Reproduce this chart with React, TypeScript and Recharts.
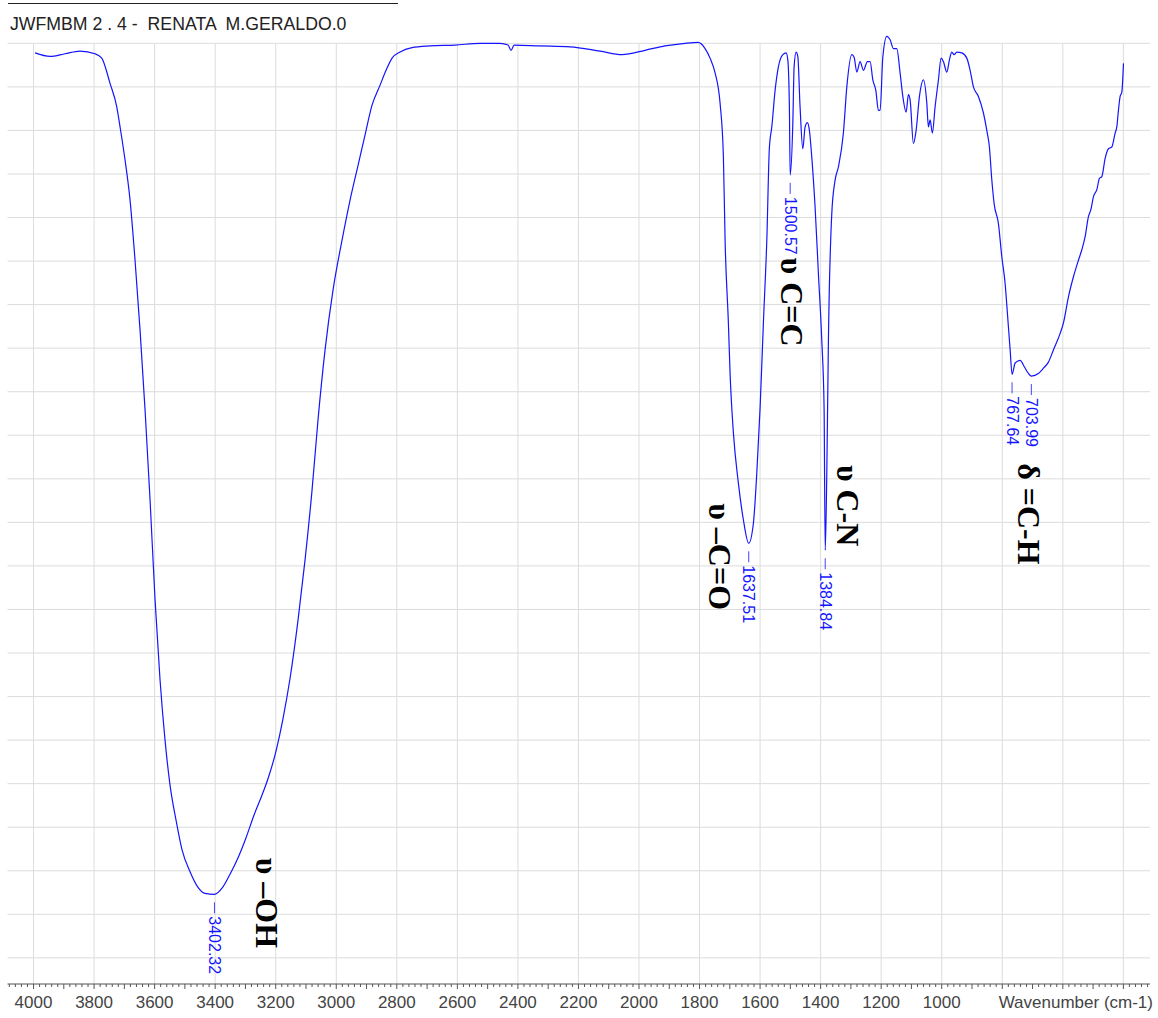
import React from 'react';
import { LineChart, Line, XAxis, YAxis, ReferenceLine, ReferenceDot, Label } from 'recharts';

const title = 'JWFMBM 2 . 4 -  RENATA  M.GERALDO.0';
const axisTitle = 'Wavenumber (cm-1)';

const wavenumbers = [
  3995, 3945.5, 3895.9, 3846.4, 3796.8, 3774.7, 3747.3, 3725.1, 3714.2, 3697.7, 3681.2, 3664.7, 3648.2, 3631.6,
  3615.1, 3598.6, 3582.1, 3565.6, 3549.0, 3529.2, 3509.4, 3483.0, 3456.6, 3433.4, 3402.3, 3377.3, 3350.9, 3324.4,
  3298.0, 3271.6, 3245.1, 3225.3, 3202.2, 3175.8, 3152.6, 3126.2, 3103.1, 3080.0, 3060.2, 3037.0, 3010.6, 2980.9,
  2954.4, 2928.0, 2904.9, 2881.8, 2855.3, 2835.5, 2815.7, 2789.3, 2749.6, 2690.2, 2607.6, 2525.0, 2458.9, 2432.5,
  2422.6, 2412.6, 2326.7, 2227.6, 2128.5, 2055.9, 1979.9, 1913.8, 1847.7, 1804.8, 1781.7, 1765.2, 1748.6, 1732.1,
  1721.2, 1715.6, 1704.7, 1699.1, 1688.2, 1671.7, 1655.2, 1637.5, 1622.1, 1610.8, 1599.9, 1589.1, 1577.8, 1569.2,
  1561.3, 1550.4, 1539.5, 1524.9, 1514.0, 1508.4, 1503.2, 1500.6, 1491.9, 1487.6, 1481.0, 1475.4, 1467.9, 1458.9,
  1451.3, 1443.7, 1437.1, 1429.2, 1418.3, 1407.4, 1396.2, 1388.6, 1384.8, 1379.6, 1374.3, 1363.1, 1352.2, 1341.3,
  1324.8, 1313.5, 1297.0, 1289.4, 1280.5, 1269.6, 1258.7, 1245.5, 1236.6, 1227.6, 1217.7, 1209.1, 1203.5, 1194.6,
  1181.4, 1170.5, 1159.6, 1148.4, 1137.5, 1128.5, 1117.6, 1110.0, 1104.4, 1093.5, 1084.6, 1073.6, 1060.4, 1049.2,
  1044.0, 1038.4, 1030.8, 1021.9, 1010.9, 1002.0, 994.4, 983.2, 974.6, 966.7, 959.1, 950.2, 933.6, 917.1,
  906.2, 895.3, 878.8, 862.2, 851.1, 842.5, 834.5, 826.9, 812.7, 801.5, 790.5, 783.0, 774.0, 767.6,
  757.4, 740.9, 727.7, 713.6, 704.0, 680.6, 664.0, 647.5, 631.0, 608.8, 597.9, 581.4, 564.9, 548.4,
  537.2, 526.3, 515.4, 507.4, 498.8, 487.6, 479.0, 471.1, 460.2, 449.3, 438.1, 427.2, 421.6, 416.3,
  410.7, 405.1, 399.6,
];

const transmittance = [
  103.9, 103.5, 103.8, 104.1, 103.8, 103.3, 100.4, 97.7, 95.4, 91.6, 87.0, 80.1, 72.1, 62.9,
  52.6, 41.1, 31.9, 25.0, 19.8, 15.8, 12.4, 9.9, 8.1, 7.4, 7.3, 8.0, 9.6, 11.5,
  13.8, 16.4, 18.7, 20.6, 23.3, 27.5, 32.1, 38.8, 45.7, 53.7, 61.8, 69.8, 76.7, 82.4,
  87.0, 91.0, 94.5, 97.9, 100.2, 101.9, 103.3, 104.0, 104.5, 104.7, 104.8, 105.0, 105.0, 104.8,
  104.2, 104.8, 104.7, 104.6, 104.1, 103.7, 104.2, 104.7, 105.0, 105.1, 104.4, 103.3, 101.6, 98.1,
  92.0, 82.4, 72.9, 67.1, 60.3, 54.5, 50.3, 47.6, 49.9, 55.7, 63.2, 72.9, 82.4, 93.1,
  95.4, 99.6, 102.3, 103.7, 103.9, 103.1, 97.7, 89.9, 95.8, 102.3, 104.0, 103.5, 97.7, 92.9,
  95.4, 95.9, 95.0, 91.9, 86.2, 78.6, 70.9, 63.2, 46.8, 55.7, 70.9, 85.5, 89.3, 90.8,
  94.7, 100.0, 103.7, 103.4, 101.7, 102.9, 101.9, 102.9, 102.9, 100.8, 99.6, 97.3, 97.3, 103.4,
  105.8, 105.4, 104.4, 104.4, 101.6, 98.9, 97.1, 99.1, 98.5, 93.5, 95.0, 98.9, 100.8, 98.1,
  95.4, 96.2, 94.7, 97.7, 100.8, 103.3, 102.9, 101.7, 103.1, 104.0, 103.7, 104.0, 103.9, 103.3,
  101.9, 100.0, 98.9, 97.0, 95.0, 93.1, 89.3, 86.6, 84.3, 80.5, 77.4, 74.0, 69.8, 67.0,
  68.3, 68.6, 67.9, 67.1, 66.8, 67.1, 67.7, 68.4, 69.8, 71.7, 72.9, 75.9, 78.2, 80.1,
  81.3, 82.8, 85.1, 85.9, 87.4, 88.2, 89.5, 89.7, 91.8, 92.9, 93.1, 94.7, 95.4, 97.3,
  98.9, 99.4, 102.7,
];

const labeledTicks = [4000, 3800, 3600, 3400, 3200, 3000, 2800, 2600, 2400, 2200, 2000, 1800, 1600, 1400, 1200, 1000];
const gridWavenumbers = [4000, 3800, 3600, 3400, 3200, 3000, 2800, 2600, 2400, 2200, 2000, 1800, 1600, 1400, 1200, 1000, 800, 600, 400];
const gridTransmittance = [0, 5, 10, 15, 20, 25, 30, 35, 40, 45, 50, 55, 60, 65, 70, 75, 80, 85, 90, 95, 100, 105];

const peakWavenumbers = [3402.32, 1637.51, 1500.57, 1384.84, 767.64, 703.99];
const peakTransmittance = [7.3, 47.6, 89.9, 46.8, 67.0, 66.8];

const bandLabels = ['υ –OH', 'υ –C=O', 'υ C=C', 'υ C-N', 'δ =C-H'];
const bandWavenumbers = [3228, 1732, 1496, 1309, 711];
const bandTransmittance = [11.5, 52.2, 80.4, 56.6, 56.8];

const X_DOMAIN: [number, number] = [312, 4086];
const Y_DOMAIN: [number, number] = [-3, 107];

const minorTicks: number[] = [];
for (let v = 4080; v >= 320; v -= 20) minorTicks.push(v);

const data = wavenumbers
  .slice(0, Math.min(wavenumbers.length, transmittance.length))
  .map((w, i) => ({ w, t: transmittance[i] }));

const SANS = '"Liberation Sans", Arial, sans-serif';
const SERIF = '"Liberation Serif", "Times New Roman", serif';
const BLUE = '#1414ff';

const AxisTick = (props: any) => {
  const { x, y, payload } = props;
  const v = payload.value as number;
  const major = v % 100 === 0;
  const labeled = labeledTicks.includes(v);
  return (
    <g>
      <line x1={x} x2={x} y1={y} y2={y + (major ? 5 : 3)} stroke="#555" strokeWidth={1} />
      {labeled && (
        <text x={x} y={y + 24} textAnchor="middle" fontFamily={SANS} fontSize={17} fill="#444">
          {v}
        </text>
      )}
    </g>
  );
};

const PeakMark = (props: any) => {
  const { cx, cy, text } = props;
  if (cx == null || cy == null) return null;
  return (
    <g>
      <line x1={cx} x2={cx} y1={cy + 8} y2={cy + 19} stroke={BLUE} strokeWidth={0.8} />
      <text
        transform={`translate(${cx},${cy + 22}) rotate(90)`}
        dominantBaseline="central"
        textAnchor="start"
        fontFamily={SANS}
        fontSize={16}
        fill={BLUE}
      >
        {text}
      </text>
    </g>
  );
};

const BandMark = (props: any) => {
  const { cx, cy, text } = props;
  if (cx == null || cy == null) return null;
  return (
    <text
      transform={`translate(${cx},${cy}) rotate(90)`}
      dominantBaseline="central"
      textAnchor="start"
      fontFamily={SERIF}
      fontWeight="bold"
      fontSize={32}
      fill="#000"
    >
      {text}
    </text>
  );
};

export default function App() {
  return (
    <div style={{ position: 'absolute', left: 0, top: 0, width: 1158, height: 1018, background: '#fff' }}>
      <LineChart
        width={1158}
        height={1018}
        data={data}
        margin={{ top: 25.9, right: 8, bottom: 0, left: 7.5 }}
      >
        <XAxis
          dataKey="w"
          type="number"
          domain={X_DOMAIN}
          reversed
          allowDataOverflow
          ticks={minorTicks}
          interval={0}
          tickSize={0}
          tickMargin={0}
          tickLine={false}
          axisLine={{ stroke: '#555', strokeWidth: 1 }}
          height={34}
          tick={<AxisTick />}
        >
          <Label
            content={(p: any) => {
              const vb = p.viewBox || {};
              return (
                <text
                  x={(vb.x ?? 0) + (vb.width ?? 0) + 3}
                  y={(vb.y ?? 0) + 24}
                  textAnchor="end"
                  fontFamily={SANS}
                  fontSize={17}
                  fill="#444"
                >
                  {axisTitle}
                </text>
              );
            }}
          />
        </XAxis>
        <YAxis type="number" hide domain={Y_DOMAIN} allowDataOverflow />
        {gridTransmittance.map((v) => (
          <ReferenceLine key={`h${v}`} y={v} stroke="#dcdcdc" strokeWidth={1} />
        ))}
        {gridWavenumbers.map((w) => (
          <ReferenceLine
            key={`v${w}`}
            segment={[
              { x: w, y: Y_DOMAIN[0] },
              { x: w, y: 105 },
            ]}
            stroke="#dcdcdc"
            strokeWidth={1}
          />
        ))}
        <Line
          type="monotone"
          dataKey="t"
          stroke={BLUE}
          strokeWidth={1.2}
          dot={false}
          activeDot={false}
          isAnimationActive={false}
        />
        {peakWavenumbers.map((w, i) => (
          <ReferenceDot
            key={`p${w}`}
            x={w}
            y={peakTransmittance[i]}
            r={0}
            ifOverflow="visible"
            shape={(p: any) => <PeakMark {...p} text={w.toFixed(2)} />}
          />
        ))}
        {bandLabels.map((label, i) => (
          <ReferenceDot
            key={`b${i}`}
            x={bandWavenumbers[i]}
            y={bandTransmittance[i]}
            r={0}
            ifOverflow="visible"
            shape={(p: any) => <BandMark {...p} text={label} />}
          />
        ))}
      </LineChart>
      <svg
        width={1158}
        height={40}
        style={{ position: 'absolute', left: 0, top: 0, pointerEvents: 'none' }}
      >
        <line x1={8} x2={398} y1={3.5} y2={3.5} stroke="#222" strokeWidth={1.2} />
        <text x={10} y={30} fontFamily={SANS} fontSize={17.7} fill="#222" style={{ whiteSpace: 'pre' }} xmlSpace="preserve">
          {title}
        </text>
      </svg>
    </div>
  );
}
